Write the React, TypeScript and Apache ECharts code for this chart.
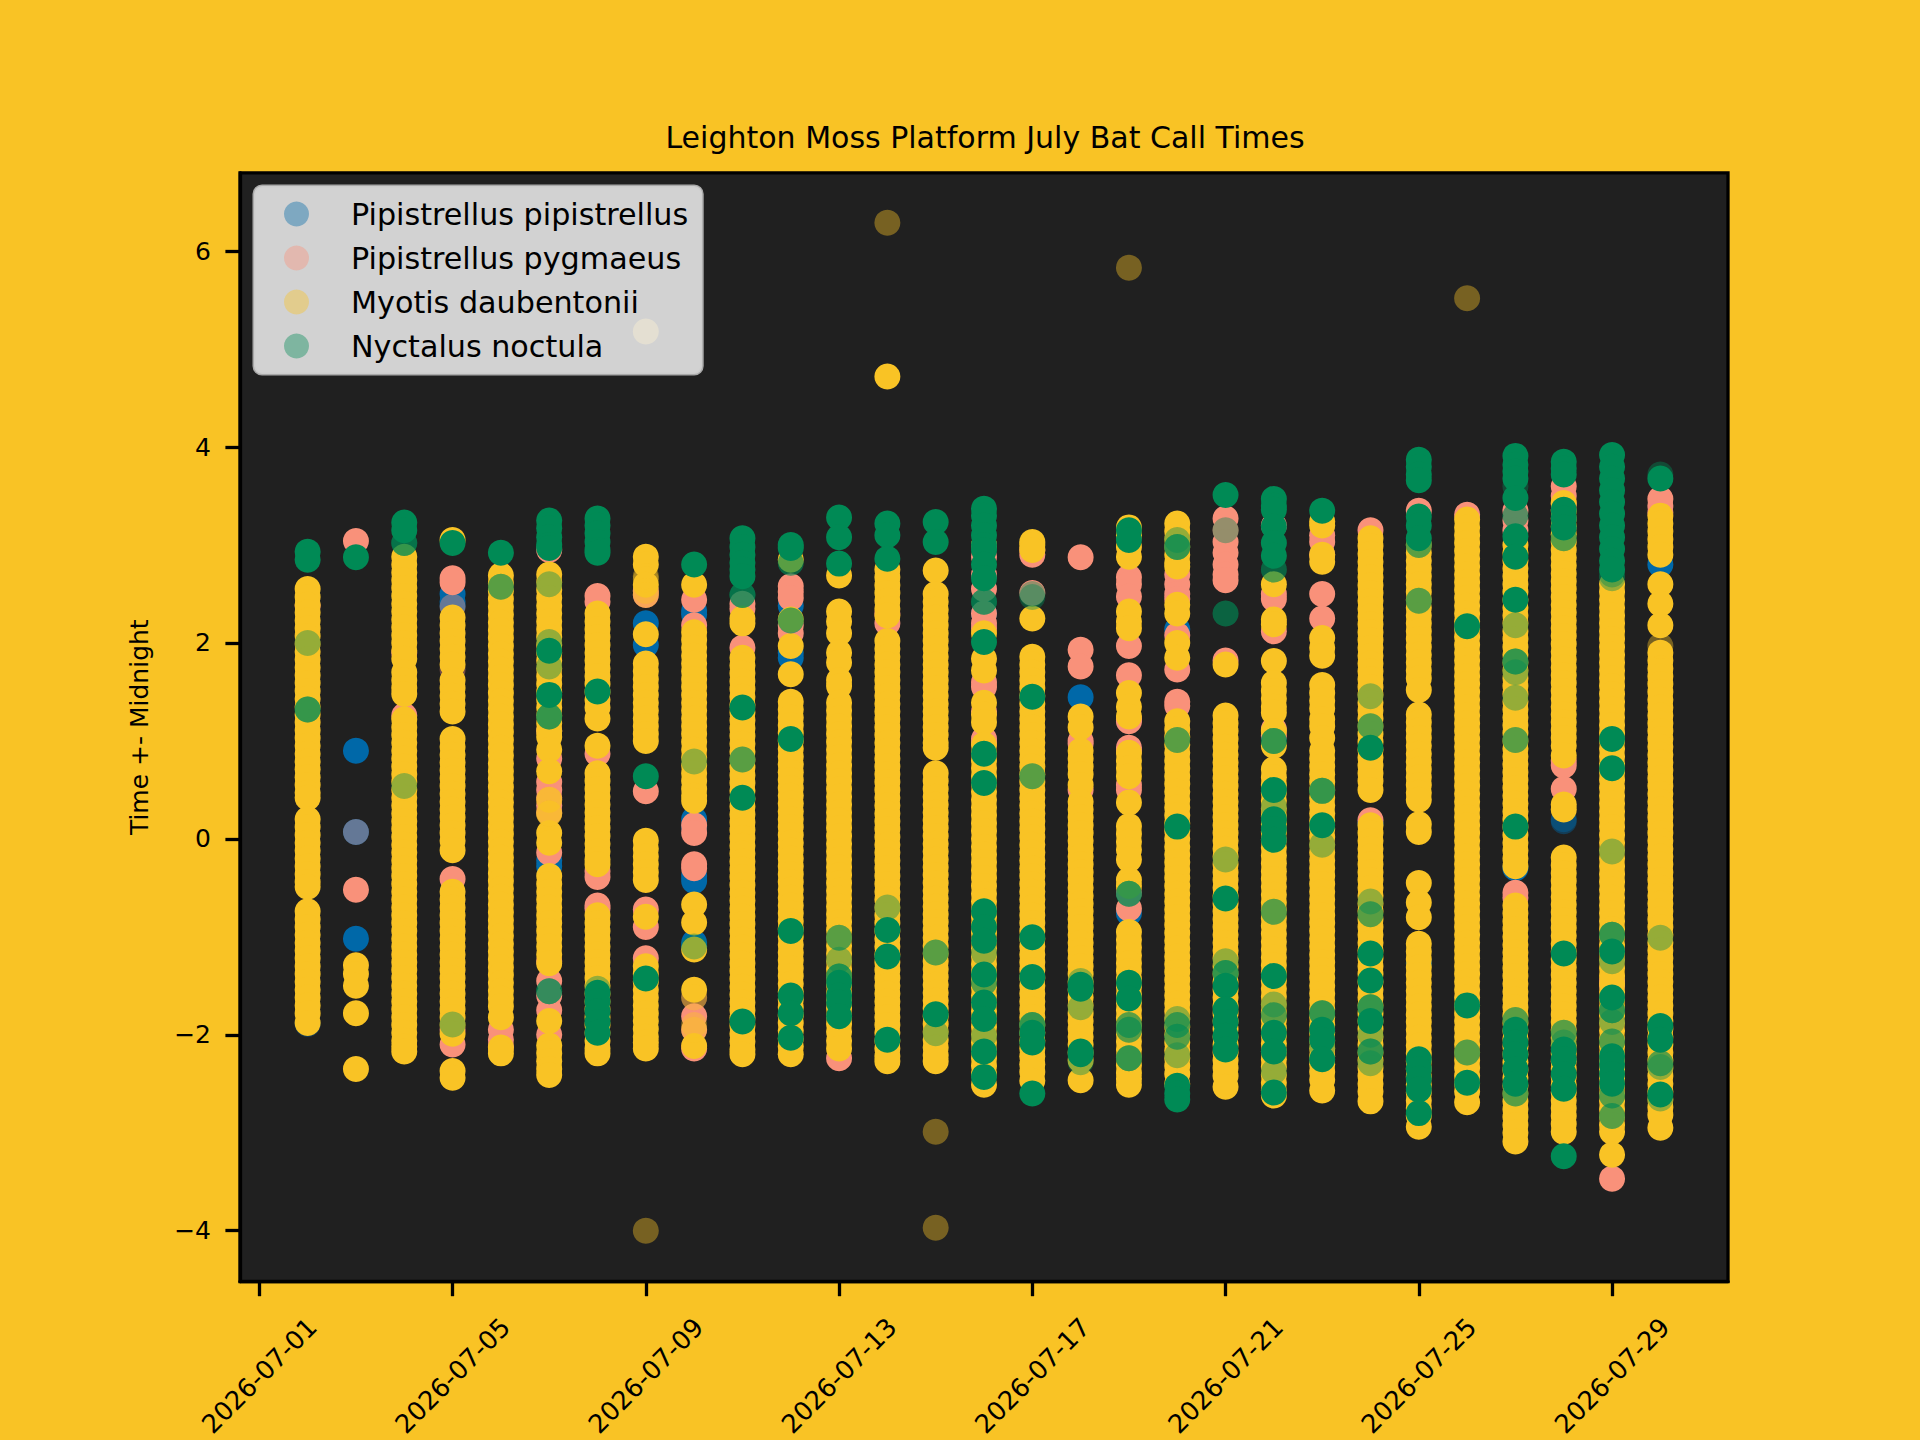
import React, { useEffect, useRef } from 'react';
import * as echarts from 'echarts';

const chartTitle = 'Leighton Moss Platform July Bat Call Times';
const yTitle = 'Time +- Midnight';
const speciesNames = ['Pipistrellus pipistrellus', 'Pipistrellus pygmaeus', 'Myotis daubentonii', 'Nyctalus noctula'];

// one row per night, 2nd to 30th of July
const nights = [2, 3, 4, 5, 6, 7, 8, 9, 10, 11, 12, 13, 14, 15, 16, 17, 18, 19, 20, 21, 22, 23, 24, 25, 26, 27, 28, 29, 30];
const dateTicks = [1, 5, 9, 13, 17, 21, 25, 29];
const dateLabels = ['2026-07-01', '2026-07-05', '2026-07-09', '2026-07-13', '2026-07-17', '2026-07-21', '2026-07-25', '2026-07-29'];
const hourTicks = [-4, -2, 0, 2, 4, 6];

// Calls piled up so thickly that the colour reads as solid
const pipistrellusDense: number[][] = [
  [], [.9, .07, -1.02], [], [2.5, 2.42, 2.38], [], [-.28, -.22], [], [2.2, 1.98], [2.29, 2.33, .2, .12, -.43, -.38, -1.06, -1.1], [],
  [2.38, 1.85, 1.9], [], [], [], [2.3], [], [1.445], [-.76], [2.14], [],
  [], [], [.16], [-1.27], [], [-.3], [], [], [2.8],
];
const pygmaeusDense: number[][] = [
  [2.38], [3.04, -.52], [1.26, 1.9], [2.66, 2.62, -.41, -1.95, -2.1], [-1.95, -2.05, -2.12], [2.95, 1.1, .82, .58, .5, .42, .34, .27, -.14, -1.25, -1.45, -1.6, -1.75, -2], [2.48, 2.42, .87, -.33, -.39, -.68, -.71], [2.49, 2.53, .485, -.72, -.9, -1.22], [2.44, 2.18, .14, .06, -.26, -.3, -1.81, -1.95, -2.14], [2.4, 2.35, 1.95],
  [2.58, 2.52, 2.46, 2.18, 2.1], [-2.24], [2.3, 2.2], [], [2.88, 2.7, 2.55, 2.3, 2.2, 2.15, 1.6, 1.55, 1.3, 1.02, .98], [2.95, 2.9, 2.51], [2.875, 1.93, 1.76, 1, .97, .5], [2.67, 2.6, 2.475, 1.97, 1.67, 1.22, 1.2, .93, .9, .55, .5, -.55, -.71], [2.7, 2.6, 2.5, 2.45, 2.08, 1.73, 1.4, 1.36], [3.27, 3.15, 3.03, 2.92, 2.8, 2.7, 2.64, 1.82],
  [3.2, 2.5, 2.45, 2.12, 1.12, 1.05], [3.1, 3.03, 2.9, 2.5, 2.25], [3.15, .19], [3.35], [3.31], [3.35, 3.25, 3.15, -.55, -.6], [3.6, 3.5, 3.42, .8, .75, .51], [-1.45, -1.5, -3.47], [3.47, 3.4, 3.33],
];
const daubentoniiDense: number[][] = [
  [2.55, 2.47, 2.39, 2.31, 2.23, 2.15, 2.07, 1.99, 1.91, 1.83, 1.75, 1.67, 1.59, 1.51, 1.43, 1.35, 1.27, 1.19, 1.11, 1.03, .95, .87, .79, .71, .63, .55, .47, .42, .2, .12, .04, -.04, -.12, -.2, -.28, -.36, -.44, -.49, -.74, -.82, -.9, -.98, -1.06, -1.14, -1.22, -1.3, -1.38, -1.46, -1.54, -1.62, -1.7, -1.78, -1.88],
  [-1.29, -1.38, -1.5, -1.78, -2.35],
  [2.88, 2.8, 2.72, 2.64, 2.56, 2.48, 2.4, 2.32, 2.24, 2.16, 2.08, 2, 1.92, 1.84, 1.7, 1.62, 1.54, 1.48, 1.22, 1.14, 1.06, .98, .9, .82, .74, .66, .58, .5, .42, .34, .26, .18, .1, .02, -.06, -.14, -.22, -.3, -.38, -.46, -.54, -.62, -.7, -.78, -.86, -.94, -1.02, -1.1, -1.18, -1.26, -1.34, -1.42, -1.5, -1.58, -1.66, -1.74, -1.82, -1.9, -1.98, -2.06, -2.12, -2.17],
  [3.05, 2.26, 2.18, 2.1, 2.02, 1.94, 1.86, 1.78, 1.62, 1.54, 1.46, 1.38, 1.3, 1.02, .94, .86, .78, .7, .62, .54, .46, .38, .3, .22, .14, .06, -.02, -.115, -.54, -.62, -.7, -.78, -.86, -.94, -1.02, -1.1, -1.18, -1.26, -1.34, -1.42, -1.5, -1.58, -1.66, -1.74, -1.82, -1.9, -1.99, -2.37, -2.44],
  [2.69, 2.61, 2.53, 2.45, 2.37, 2.29, 2.21, 2.13, 2.05, 1.97, 1.89, 1.81, 1.73, 1.65, 1.57, 1.49, 1.41, 1.33, 1.25, 1.17, 1.09, 1.01, .93, .85, .77, .69, .61, .53, .45, .37, .29, .21, .13, .05, -.03, -.11, -.19, -.27, -.35, -.43, -.51, -.59, -.67, -.75, -.83, -.91, -.99, -1.07, -1.15, -1.23, -1.31, -1.39, -1.47, -1.55, -1.63, -1.71, -1.82, -2.13, -2.19],
  [2.7, 2.62, 2.54, 2.46, 2.38, 2.3, 2.22, 2.14, 2.06, 1.98, 1.9, 1.82, 1.74, 1.66, 1.58, 1.5, 1.42, 1.34, 1.26, 1.18, 1.1, 1.04, .91, .69, .06, -.04, -.38, -.46, -.54, -.62, -.7, -.78, -.86, -.94, -1.02, -1.1, -1.18, -1.27, -1.86, -2.11, -2.19, -2.27, -2.35, -2.41],
  [2.3, 2.22, 2.14, 2.06, 1.98, 1.9, 1.82, 1.74, 1.66, 1.58, 1.5, 1.42, 1.34, 1.23, .95, .67, .59, .51, .43, .35, .27, .19, .11, .03, -.05, -.13, -.21, -.26, -.78, -.86, -.94, -1.02, -1.1, -1.18, -1.26, -1.34, -1.42, -1.5, -1.58, -1.66, -1.74, -1.82, -1.9, -1.98, -2.06, -2.14, -2.19],
  [2.88, 2.8, 2.595, 2.09, 1.79, 1.71, 1.63, 1.55, 1.47, 1.39, 1.31, 1.23, 1.15, 1.07, 1, -.02, -.1, -.18, -.26, -.34, -.42, -.795, -1.3, -1.38, -1.46, -1.54, -1.62, -1.7, -1.78, -1.86, -1.94, -2.02, -2.08, -2.14],
  [2.595, 2.11, 2.03, 1.95, 1.87, 1.79, 1.71, 1.63, 1.55, 1.47, 1.39, 1.31, 1.23, 1.15, 1.07, .99, .91, .83, .75, .67, .59, .51, .44, .39, -.67, -.855, -1.13, -1.54, -2.115],
  [2.25, 2.2, 1.85, 1.77, 1.69, 1.61, 1.53, 1.45, 1.37, 1.29, 1.21, 1.13, 1.05, .97, .89, .81, .73, .65, .57, .49, .41, .33, .25, .17, .09, .01, -.07, -.15, -.23, -.31, -.39, -.47, -.55, -.63, -.71, -.79, -.87, -.95, -1.03, -1.11, -1.19, -1.27, -1.35, -1.43, -1.51, -1.59, -1.67, -1.75, -1.83, -1.91, -1.99, -2.07, -2.15, -2.2],
  [2.85, 2.24, 1.97, 1.68, 1.4, 1.32, 1.24, 1.16, 1.08, 1, .92, .84, .76, .68, .6, .52, .44, .36, .28, .2, .12, .04, -.04, -.12, -.2, -.28, -.36, -.44, -.52, -.6, -.68, -.76, -.84, -.92, -1, -1.08, -1.16, -1.24, -1.32, -1.4, -1.48, -1.56, -1.64, -1.72, -1.8, -1.88, -1.96, -2.04, -2.12, -2.2],
  [2.69, 2.32, 2.22, 2.1, 1.9, 1.8, 1.62, 1.56, 1.39, 1.31, 1.23, 1.15, 1.07, .99, .91, .83, .75, .67, .59, .51, .43, .35, .27, .19, .11, .03, -.05, -.13, -.21, -.29, -.37, -.45, -.53, -.61, -.69, -.77, -.85, -.93, -1.01, -1.09, -1.17, -1.25, -1.33, -1.41, -1.49, -1.57, -1.65, -1.73, -1.81, -1.89, -1.97, -2.06, -2.14],
  [4.72, 2.75, 2.67, 2.59, 2.51, 2.43, 2.35, 2.28, 2.02, 1.94, 1.86, 1.78, 1.7, 1.62, 1.54, 1.46, 1.38, 1.3, 1.22, 1.14, 1.06, .98, .9, .82, .74, .66, .58, .5, .42, .34, .26, .18, .1, .02, -.06, -.14, -.22, -.3, -.38, -.46, -.54, -.62, -.7, -.78, -.86, -.94, -1.02, -1.1, -1.18, -1.26, -1.34, -1.42, -1.5, -1.58, -1.66, -1.74, -1.82, -1.9, -1.98, -2.06, -2.14, -2.22, -2.27],
  [2.74, 2.5, 2.42, 2.34, 2.26, 2.18, 2.1, 2.02, 1.94, 1.86, 1.78, 1.7, 1.62, 1.54, 1.46, 1.38, 1.3, 1.22, 1.14, 1.06, .98, .93, .67, .59, .51, .43, .35, .27, .19, .11, .03, -.05, -.13, -.21, -.29, -.37, -.45, -.53, -.61, -.69, -.77, -.85, -.93, -1.01, -1.09, -1.17, -1.25, -1.33, -1.41, -1.49, -1.57, -1.65, -1.73, -1.81, -1.89, -1.97, -2.05, -2.13, -2.21, -2.27],
  [3, 2.1, 1.84, 1.72, 1.39, 1.27, 1.19, .96, .88, .8, .72, .64, .56, .48, .4, .32, .24, .16, .08, 0, -.08, -.16, -.24, -.32, -.4, -.48, -.56, -.64, -.72, -.8, -.88, -.96, -1.04, -1.12, -1.2, -1.28, -1.36, -1.44, -1.52, -1.6, -1.68, -1.76, -1.84, -1.92, -2, -2.08, -2.16, -2.24, -2.32, -2.4, -2.51],
  [3.03, 3, 2.95, 2.25, 1.86, 1.78, 1.7, 1.62, 1.54, 1.46, 1.38, 1.3, 1.22, 1.14, 1.06, .98, .9, .82, .74, .66, .58, .5, .42, .34, .26, .18, .1, .02, -.06, -.14, -.22, -.3, -.38, -.46, -.54, -.62, -.7, -.78, -.86, -.94, -1.02, -1.1, -1.18, -1.26, -1.34, -1.42, -1.5, -1.58, -1.66, -1.74, -1.82, -1.9, -1.98, -2.06, -2.14, -2.22, -2.3, -2.38, -2.47],
  [1.25, 1.14, .9, .82, .74, .66, .55, .38, .3, .22, .14, .06, -.02, -.1, -.18, -.26, -.34, -.42, -.5, -.58, -.66, -.74, -.82, -.9, -.98, -1.06, -1.14, -1.22, -1.3, -1.38, -1.46, -1.54, -1.62, -1.7, -1.78, -1.86, -1.94, -2.02, -2.1, -2.18, -2.26, -2.465],
  [3.18, 3.1, 2.98, 2.88, 2.32, 2.22, 2.15, 1.49, 1.35, 1.25, .88, .8, .72, .64, .37, .13, .05, -.03, -.11, -.21, -.42, -.48, -.95, -1.03, -1.11, -1.19, -1.27, -1.35, -1.43, -1.51, -1.59, -1.67, -1.75, -1.83, -1.91, -1.99, -2.07, -2.15, -2.23, -2.31, -2.39, -2.45, -2.51],
  [3.22, 3.14, 3.06, 2.98, 2.9, 2.82, 2.78, 2.39, 2.3, 2, 1.85, 1.2, 1.12, 1.04, .96, .88, .8, .72, .64, .56, .48, .4, .32, .24, .16, .08, 0, -.08, -.16, -.24, -.32, -.4, -.48, -.56, -.64, -.72, -.8, -.88, -.96, -1.04, -1.12, -1.2, -1.28, -1.36, -1.44, -1.52, -1.6, -1.68, -1.76, -1.84, -1.92, -2, -2.08, -2.16, -2.24, -2.32, -2.4, -2.5],
  [1.78, 1.26, 1.18, 1.1, 1.02, .94, .86, .78, .7, .62, .54, .46, .38, .3, .22, .14, .06, -.02, -.1, -.18, -.26, -.34, -.42, -.5, -.58, -.66, -.74, -.82, -.9, -.98, -1.06, -1.14, -1.22, -1.3, -1.38, -1.46, -1.54, -1.62, -1.7, -1.78, -1.86, -1.94, -2.02, -2.1, -2.18, -2.26, -2.34, -2.42, -2.53],
  [2.6, 2.24, 2.19, 1.815, 1.59, 1.51, 1.43, 1.35, 1.29, 1.1, .95, .71, .63, .55, .47, .39, .31, .23, .15, .07, -.01, -.09, -.17, -.25, -.33, -.41, -.49, -.57, -.65, -.73, -.81, -.89, -.97, -1.05, -1.13, -1.21, -1.29, -1.37, -1.45, -1.53, -1.61, -1.69, -1.77, -1.85, -1.93, -2.01, -2.09, -2.17, -2.25, -2.33, -2.41, -2.49, -2.57, -2.62],
  [3.24, 3.2, 2.9, 2.83, 2.05, 1.95, 1.87, 1.57, 1.49, 1.41, 1.33, 1.22, 1.15, 1.03, .9, .82, .74, .66, .58, .5, .42, .34, .26, .18, .1, .02, -.06, -.14, -.22, -.3, -.38, -.46, -.54, -.62, -.7, -.78, -.86, -.94, -1.02, -1.1, -1.18, -1.26, -1.34, -1.42, -1.5, -1.58, -1.66, -1.74, -1.82, -1.9, -1.98, -2.06, -2.14, -2.22, -2.3, -2.38, -2.46, -2.57],
  [3.07, 2.99, 2.91, 2.83, 2.75, 2.67, 2.59, 2.51, 2.43, 2.35, 2.27, 2.19, 2.11, 2.03, 1.95, 1.87, 1.79, 1.71, 1.63, 1.55, 1.47, 1.39, 1.31, 1.23, 1.15, 1.07, .99, .91, .83, .75, .67, .59, .5, .14, .06, -.02, -.1, -.18, -.26, -.34, -.42, -.5, -.58, -.66, -.74, -.82, -.9, -.98, -1.06, -1.14, -1.22, -1.3, -1.38, -1.46, -1.54, -1.62, -1.7, -1.78, -1.86, -1.94, -2.02, -2.1, -2.18, -2.26, -2.34, -2.42, -2.5, -2.58, -2.68],
  [3, 2.92, 2.84, 2.76, 2.68, 2.6, 2.52, 2.44, 2.36, 2.28, 2.2, 2.12, 2.04, 1.96, 1.88, 1.8, 1.72, 1.64, 1.52, 1.27, 1.19, 1.11, 1.03, .95, .87, .79, .71, .63, .55, .47, .4, .15, .07, -.45, -.65, -.8, -1.07, -1.15, -1.23, -1.31, -1.39, -1.47, -1.55, -1.63, -1.71, -1.79, -1.87, -1.95, -2.03, -2.11, -2.19, -2.27, -2.35, -2.43, -2.51, -2.59, -2.67, -2.75, -2.83, -2.94],
  [3.26, 3.18, 3.1, 3.02, 2.94, 2.86, 2.78, 2.7, 2.62, 2.54, 2.46, 2.38, 2.3, 2.22, 2.14, 2.06, 1.98, 1.9, 1.82, 1.74, 1.66, 1.58, 1.5, 1.42, 1.34, 1.26, 1.18, 1.1, 1.02, .94, .86, .78, .7, .62, .54, .46, .38, .3, .22, .14, .06, -.02, -.1, -.18, -.26, -.34, -.42, -.5, -.58, -.66, -.74, -.82, -.9, -.98, -1.06, -1.14, -1.22, -1.3, -1.38, -1.46, -1.54, -1.62, -1.7, -1.78, -1.86, -1.94, -2.02, -2.1, -2.18, -2.26, -2.34, -2.42, -2.5, -2.58, -2.69],
  [3, 2.92, 2.84, 2.76, 2.68, 2.6, 2.52, 2.44, 2.36, 2.28, 2.2, 2.12, 2.04, 1.96, 1.88, 1.8, 1.72, 1.64, 1.56, 1.48, 1.4, 1.32, 1.24, 1.16, 1.08, 1, .92, .84, .76, .68, .6, .52, .44, .36, .28, .2, .12, .04, -.04, -.12, -.2, -.28, -.68, -.76, -.84, -.92, -1, -1.08, -1.16, -1.24, -1.32, -1.4, -1.48, -1.56, -1.64, -1.72, -1.8, -1.88, -1.96, -2.04, -2.12, -2.2, -2.28, -2.36, -2.44, -2.52, -2.6, -2.68, -2.76, -2.84, -2.92, -3, -3.09],
  [3.43, 3.35, 3.27, 3.19, 3.11, 3.03, 2.95, 2.87, 2.79, 2.71, 2.63, 2.55, 2.47, 2.39, 2.31, 2.23, 2.15, 2.07, 1.99, 1.91, 1.83, 1.75, 1.67, 1.59, 1.51, 1.43, 1.35, 1.27, 1.19, 1.11, 1.03, .95, .85, .35, .3, -.19, -.27, -.35, -.43, -.51, -.59, -.67, -.75, -.83, -.91, -.99, -1.07, -1.15, -1.23, -1.31, -1.39, -1.47, -1.55, -1.63, -1.71, -1.79, -1.87, -1.95, -2.03, -2.11, -2.19, -2.27, -2.35, -2.43, -2.51, -2.59, -2.67, -2.75, -2.83, -2.91, -2.99],
  [2.6, 2.52, 2.44, 2.36, 2.28, 2.2, 2.12, 2.04, 1.96, 1.88, 1.8, 1.72, 1.64, 1.56, 1.48, 1.4, 1.32, 1.24, 1.16, 1.08, 1, .92, .84, .76, .68, .6, .52, .44, .36, .28, .2, .12, .04, -.04, -.12, -.2, -.28, -.36, -.44, -.52, -.6, -.68, -.76, -.84, -.92, -1, -1.08, -1.16, -1.24, -1.32, -1.4, -1.48, -1.56, -1.64, -1.72, -1.8, -1.88, -1.96, -2.04, -2.12, -2.2, -2.28, -2.36, -2.44, -2.52, -2.6, -2.68, -2.76, -2.84, -2.92, -2.99, -3.225],
  [3.3, 3.22, 3.14, 3.06, 2.98, 2.9, 2.6, 2.4, 2.18, 1.9, 1.82, 1.74, 1.66, 1.58, 1.5, 1.42, 1.34, 1.26, 1.18, 1.1, 1.02, .94, .86, .78, .7, .62, .54, .46, .38, .3, .22, .14, .06, -.02, -.1, -.18, -.26, -.34, -.42, -.5, -.58, -.66, -.74, -.82, -.9, -.98, -1.06, -1.14, -1.22, -1.3, -1.38, -1.46, -1.54, -1.62, -1.7, -1.78, -1.86, -1.94, -2.02, -2.1, -2.18, -2.26, -2.34, -2.42, -2.5, -2.58, -2.66, -2.74, -2.82, -2.95],
];
const noctulaDense: number[][] = [
  [2.93, 2.85], [2.875], [3.23, 3.15], [3.02], [2.92], [3.25, 3.17, 3.08, 3, 2.97, 1.92, 1.47], [3.27, 3.2, 3.12, 3.03, 2.95, 2.92, 1.505, -1.57, -1.66, -1.76, -1.87, -1.98], [.64, -1.425], [2.8], [3.07, 2.98, 2.9, 2.82, 2.75, 2.68, 1.34, .42, -1.865],
  [3, 2.97, 1.02, -.94, -1.6, -1.78, -2.03], [3.28, 3.08, 2.81, -1.47, -1.6, -1.67, -1.81], [3.22, 3.1, 2.86, -.93, -1.2, -2.05], [3.235, 3.03, -1.79], [3.37, 3.3, 3.2, 3.1, 3, 2.95, 2.8, 2.66, 2.01, .87, .57, -.74, -.9, -1.04, -1.385, -1.67, -1.84, -2.17, -2.43], [1.45, -1.005, -1.41, -1.98, -2.08, -2.6], [-1.49, -1.53, -2.17, -2.2], [3.15, 3.05, -1.47, -1.63], [.125, -2.52, -2.6, -2.66], [3.51, -.61, -1.5, -1.74, -1.87, -2.01, -2.15],
  [3.47, 3.4, 3.36, 3.19, 3.02, 2.89, .5, .2, .1, -.01, -1.4, -1.98, -2.17, -2.59], [3.35, .14, -1.95, -2.05, -2.25], [.93, -1.17, -1.445, -1.86], [3.87, 3.8, 3.72, 3.66, 3.29, 3.2, 3.07, -2.25, -2.35, -2.45, -2.56, -2.8], [2.17, -1.7, -2.49], [3.91, 3.82, 3.75, 3.68, 3.48, 3.09, 2.88, 2.44, .125, -1.95, -2.08, -2.2, -2.35, -2.5], [3.85, 3.78, 3.72, 3.36, 3.27, 3.18, -1.17, -2.15, -2.25, -2.4, -2.55, -3.24], [3.92, 3.8, 3.68, 3.56, 3.44, 3.32, 3.2, 3.08, 2.96, 2.84, 2.75, 1.02, .72, -1.15, -1.62, -2.22, -2.3, -2.4, -2.5], [3.68, -1.91, -2.05, -2.61],
];

// Single calls, where the marker's transparency still shows
const pipistrellusSparse: number[][] = [
  [-1.89], [], [], [], [], [], [], [], [], [],
  [], [], [], [], [], [], [], [], [], [],
  [], [], [], [], [], [], [.2, .18], [], [],
];
const pygmaeusSparse: number[][] = [
  [], [.07], [], [2.37, 1.73], [], [], [], [], [-1.62], [],
  [], [], [], [], [], [], [], [], [], [],
  [], [], [], [], [], [], [], [], [],
];
const daubentoniiSparse: number[][] = [
  [], [], [], [], [], [.4, .4, .4, .26, .26, .26], [], [5.18, -4, 2.68, 2.65, 2.49, 2.53], [-1.62, -1.95, -1.9], [],
  [], [], [6.29], [-2.99, -3.97], [], [], [], [5.83], [], [],
  [], [], [], [], [5.52], [], [], [], [1.97],
];
const noctulaSparse: number[][] = [
  [2, 1.32, 1.32, 1.32], [], [3.02, 3.02, 3.02, .54], [-1.895], [2.575, 2.575], [2.6, 2.01, 1.76, 1.25, 1.25, 1.25, -1.555, -1.555, -1.555], [-1.53], [], [.79, -1.1], [2.49, 2.49, 2.49, .81, .81],
  [2.82, 2.82, 2.23, 2.23], [-1.01, -1.01, -1.235, -1.405, -1.405, -1.405], [-.7], [-1.16, -1.16, -1.985], [2.42, 2.42, 2.42, -1.165, -1.47, -1.47, -2.01], [2.5, 2.47, .64, .64, -1.9, -1.9, -1.9], [-1.45, -1.72, -2.28], [-.56, -.56, -.56, -1.9, -1.9, -1.95, -1.95, -2.24, -2.24, -2.24], [3.05, 2.98, 2.98, 2.98, 1.01, 1.01, -1.84, -1.9, -1.9, -2.02, -2.02, -2.21], [3.15, 2.3, 2.3, -.21, -1.25, -1.37, -1.37, -1.37],
  [2.75, 2.75, 1, 1, 1, .33, -.745, -.745, -1.69, -1.8, -1.8, -2.375], [.49, .49, .49, -.06, -1.78, -1.78, -1.78, -2.12], [1.455, 1.15, 1.15, -.64, -.77, -.77, -1.72, -1.72, -1.72, -2, -2.17, -2.17, -2.17, -2.29], [3, 3, 2.43, 2.43], [-2.18, -2.18], [3.6, 3.3, 3.3, 2.18, 1.81, 1.81, 1.81, 1.7, 1.44, 1.01, 1.01, -1.85, -1.85, -2.6, -2.6], [3.3, 3.07, 3.07, -1.98, -1.98, -2.08], [2.7, 2.66, -.13, -.98, -.98, -.98, -1.25, -1.75, -1.75, -1.75, -1.87, -2.07, -2.07, -2.62, -2.62, -2.83, -2.83], [3.72, -1.01, -2.29, -2.29, -2.33, -2.65],
];

const colours = ['#0068A8', '#F9917A', '#F9C325', '#008A55'];
const pageYellow = '#F9C325';
const plotDark = '#202020';
const font = 'DejaVu Sans';
const dotSize = 26;

const toPoints = (lists: number[][]) =>
  lists.flatMap((values, i) => values.map(v => [nights[i], v]));

const makeSeries = (species: number, lists: number[][], opacity: number) => ({
  name: speciesNames[species],
  type: 'scatter',
  data: toPoints(lists),
  symbol: 'circle',
  symbolSize: dotSize,
  silent: true,
  itemStyle: { color: colours[species], opacity },
});

const App: React.FC = () => {
  const chartRef = useRef<HTMLDivElement>(null);

  useEffect(() => {
    if (!chartRef.current) return;
    const chart = echarts.init(chartRef.current, undefined, { renderer: 'svg' });

    const option = {
      animation: false,
      backgroundColor: pageYellow,
      title: {
        text: chartTitle,
        left: 980,
        top: 117,
        textAlign: 'center',
        textStyle: { fontFamily: font, fontSize: 30, fontWeight: 'normal', color: '#000' },
      },
      legend: {
        left: 254,
        top: 186,
        orient: 'vertical',
        selectedMode: false,
        itemWidth: 25,
        itemHeight: 25,
        itemGap: 14,
        padding: [13, 14, 13, 30],
        backgroundColor: 'rgba(255,255,255,0.8)',
        borderColor: 'rgba(204,204,204,0.8)',
        borderWidth: 3,
        borderRadius: 8,
        textStyle: { fontFamily: font, fontSize: 30.2, color: '#000', lineHeight: 25, padding: [0, 0, 0, 37] },
        data: speciesNames.map(name => ({ name, icon: 'circle', itemStyle: { opacity: 0.4 } })),
      },
      grid: {
        show: true,
        left: 240,
        top: 172.8,
        width: 1488,
        height: 1108.8,
        outerBoundsMode: 'none',
        backgroundColor: plotDark,
        borderColor: '#000',
        borderWidth: 3.3,
      },
      xAxis: {
        type: 'value',
        min: 0.6,
        max: 31.4,
        splitLine: { show: false },
        axisLine: { show: true, onZero: false, lineStyle: { color: '#000', width: 3.3 } },
        axisTick: {
          show: true,
          length: 14.6,
          lineStyle: { color: '#000', width: 3.3 },
          customValues: dateTicks,
        },
        axisLabel: {
          customValues: dateTicks,
          formatter: (v: number) => dateLabels[dateTicks.indexOf(v)],
          rotate: 45,
          align: 'center',
          verticalAlign: 'middle',
          margin: 94,
          hideOverlap: false,
          fontFamily: font,
          fontSize: 25.8,
          color: '#000',
        },
      },
      yAxis: {
        type: 'value',
        min: -4.52,
        max: 6.8,
        name: yTitle,
        nameLocation: 'middle',
        nameGap: 88,
        nameTextStyle: { fontFamily: font, fontSize: 25, color: '#000' },
        splitLine: { show: false },
        axisLine: { show: true, onZero: false, lineStyle: { color: '#000', width: 3.3 } },
        axisTick: {
          show: true,
          length: 14.6,
          lineStyle: { color: '#000', width: 3.3 },
          customValues: hourTicks,
        },
        axisLabel: {
          customValues: hourTicks,
          formatter: (v: number) => String(v).replace('-', '\u2212'),
          margin: 29,
          fontFamily: font,
          fontSize: 25,
          color: '#000',
        },
      },
      series: [
        makeSeries(0, pipistrellusDense, 1),
        makeSeries(0, pipistrellusSparse, 0.4),
        makeSeries(1, pygmaeusDense, 1),
        makeSeries(1, pygmaeusSparse, 0.4),
        makeSeries(2, daubentoniiDense, 1),
        makeSeries(2, daubentoniiSparse, 0.4),
        makeSeries(3, noctulaSparse, 0.4),
        makeSeries(3, noctulaDense, 1),
      ],
    } as any;

    chart.setOption(option);

    return () => {
      chart.dispose();
    };
  }, []);

  return <div ref={chartRef} style={{ position: 'fixed', left: 0, top: 0, width: 1920, height: 1440 }} />;
};

export default App;
